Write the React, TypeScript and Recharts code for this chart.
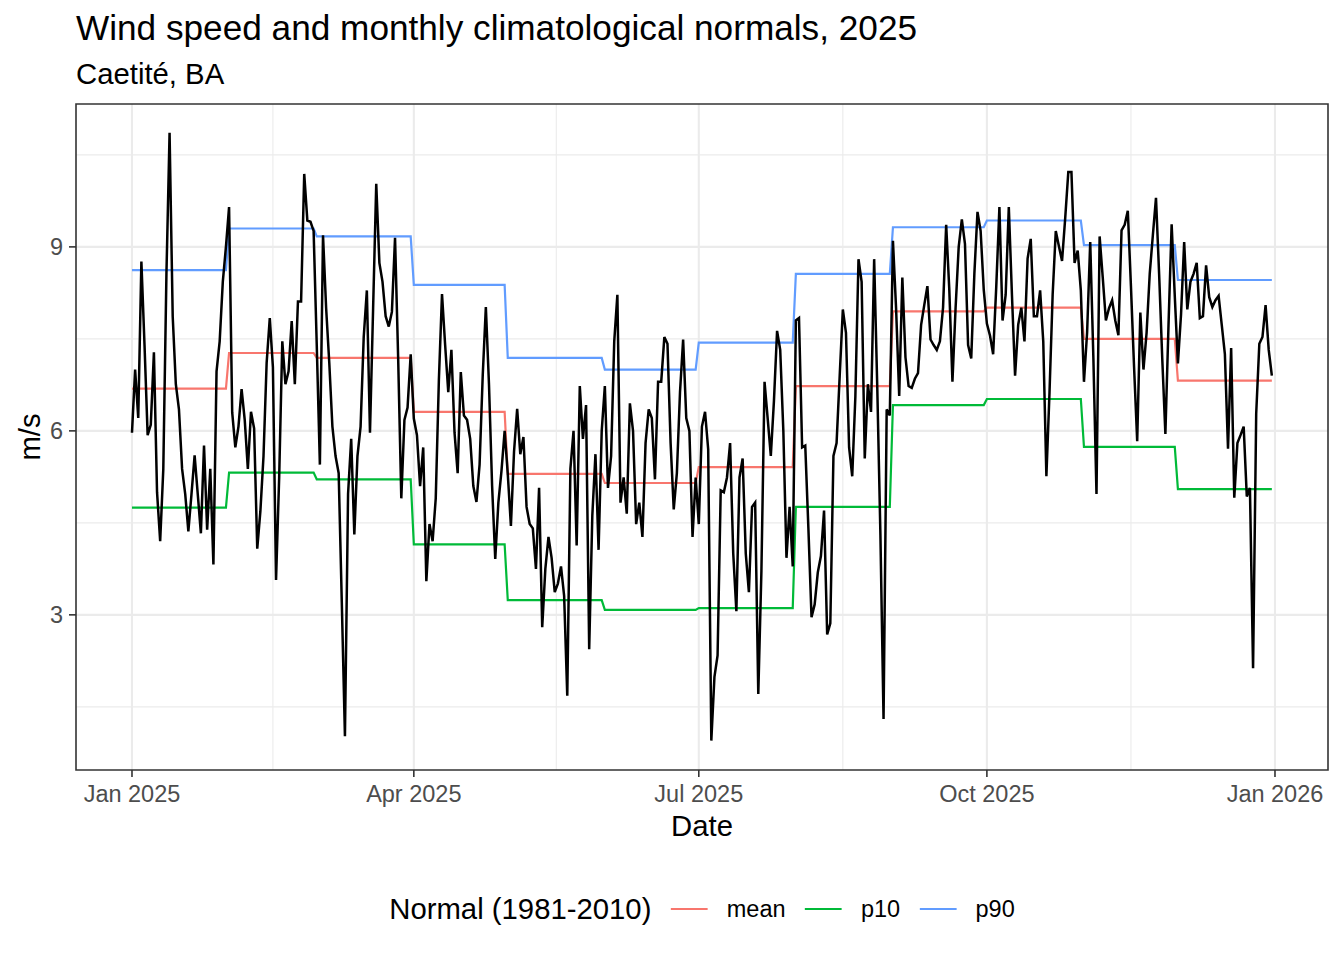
import { CartesianGrid, Line, LineChart, ReferenceArea, XAxis, YAxis } from "recharts";

const FONT = "'Liberation Sans', Arial, Helvetica, sans-serif";

// days in each month of 2025
const monthDays = [31, 28, 31, 30, 31, 30, 31, 31, 30, 31, 30, 31];

// monthly climatological normals (1981-2010), m/s
const normalMean = [6.69, 7.27, 7.19, 6.31, 5.3, 5.15, 5.41, 6.73, 7.95, 8.01, 7.5, 6.82];
const normalP10 = [4.75, 5.32, 5.21, 4.15, 3.24, 3.08, 3.11, 4.76, 6.42, 6.52, 5.74, 5.05];
const normalP90 = [8.62, 9.3, 9.17, 8.38, 7.19, 7.0, 7.44, 8.56, 9.32, 9.43, 9.03, 8.46];

// daily wind speed, 2025-01-01 .. 2025-12-31
const windSpeed = [
  // Jan
  5.97, 7.0, 6.21, 8.76, 7.4, 5.93, 6.1, 7.28, 5.0, 4.2, 5.38, 8.56, 10.86, 7.87, 6.76, 6.35,
  5.38, 4.97, 4.36, 4.97, 5.6, 4.97, 4.33, 5.76, 4.39, 5.38, 3.82, 6.97, 7.46, 8.43, 9.0,
  // Feb
  9.65, 6.3, 5.73, 6.07, 6.68, 6.18, 5.38, 6.31, 6.04, 4.08, 4.69, 5.59, 7.11, 7.84, 7.04, 3.57,
  5.24, 7.46, 6.76, 6.97, 7.79, 6.76, 8.11, 8.11, 10.19, 9.43, 9.41, 9.26,
  // Mar
  7.4, 5.45, 9.19, 8.0, 7.11, 6.07, 5.59, 5.31, 3.2, 1.02, 4.97, 5.87, 4.31, 5.59, 6.07, 7.53,
  8.29, 5.97, 8.0, 10.03, 8.74, 8.43, 7.87, 7.7, 7.94, 9.15, 7.18, 4.9, 6.18, 6.38, 7.25,
  // Apr
  6.2, 5.93, 5.1, 5.73, 3.55, 4.48, 4.2, 4.9, 6.83, 8.23, 7.4, 6.63, 7.32, 5.97, 5.31, 6.96,
  6.25, 6.18, 5.87, 5.1, 4.84, 5.45, 6.9, 8.02, 6.76, 5.1, 3.91, 4.83, 5.35, 6.0,
  // May
  5.3, 4.45, 5.66, 6.36, 5.62, 5.9, 4.76, 4.48, 4.41, 3.75, 5.07, 2.8, 3.75, 4.27, 3.93, 3.37,
  3.51, 3.79, 3.31, 1.68, 5.38, 6.0, 4.13, 6.73, 5.87, 6.42, 2.44, 4.62, 5.62, 4.06, 6.0,
  // Jun
  6.73, 5.07, 5.59, 7.46, 8.22, 4.83, 5.24, 4.65, 6.45, 6.0, 4.48, 4.83, 4.27, 5.8, 6.35, 6.21,
  5.21, 6.8, 6.8, 7.53, 7.42, 5.8, 4.72, 5.31, 6.63, 7.49, 6.21, 6.0, 4.27, 5.24,
  // Jul
  4.48, 6.07, 6.31, 5.7, 0.95, 1.99, 2.34, 5.03, 5.0, 5.24, 5.8, 4.0, 3.06, 5.24, 5.55, 4.0,
  3.37, 4.76, 4.83, 1.71, 3.72, 6.8, 6.2, 5.59, 6.49, 7.63, 7.32, 6.0, 3.93, 4.76, 3.79,
  // Aug
  7.8, 7.84, 5.73, 5.76, 4.41, 2.96, 3.17, 3.69, 3.96, 4.7, 2.68, 2.86, 5.59, 5.8, 6.9, 7.98,
  7.6, 5.73, 5.26, 6.56, 8.8, 8.43, 5.55, 6.76, 6.31, 8.8, 6.7, 4.3, 1.3, 6.35, 6.25,
  // Sep
  9.1, 8.0, 6.57, 8.5, 7.2, 6.73, 6.7, 6.85, 6.94, 7.73, 8.05, 8.36, 7.49, 7.4, 7.32, 7.46,
  8.01, 9.36, 8.3, 6.8, 8.0, 9.0, 9.45, 9.05, 7.4, 7.18, 8.56, 9.57, 9.26, 8.3,
  // Oct
  7.75, 7.55, 7.25, 8.36, 9.65, 7.8, 8.22, 9.65, 8.22, 6.9, 7.73, 8.01, 7.46, 8.81, 9.13, 7.87,
  7.87, 8.29, 7.46, 5.26, 6.63, 8.22, 9.26, 9.01, 8.77, 9.46, 10.22, 10.22, 8.74, 8.94, 8.29,
  // Nov
  6.8, 7.6, 9.08, 7.2, 4.97, 9.17, 8.5, 7.8, 8.0, 8.13, 7.8, 7.56, 9.27, 9.36, 9.59, 8.36,
  7.04, 5.83, 7.93, 7.0, 7.6, 8.56, 9.19, 9.8, 8.56, 7.18, 5.95, 7.73, 9.37, 8.2,
  // Dec
  7.1, 7.9, 9.08, 7.98, 8.43, 8.56, 8.74, 7.84, 7.87, 8.7, 8.18, 8.02, 8.13, 8.2, 7.73, 7.25,
  5.71, 7.35, 4.91, 5.8, 5.93, 6.07, 4.93, 5.07, 2.13, 6.28, 7.42, 7.53, 8.05, 7.32, 6.9,
];

// x axis: day of year (0 = 2025-01-01)
const xTickDays = [0, 90, 181, 273, 365];
const xTickLabels = ["Jan 2025", "Apr 2025", "Jul 2025", "Oct 2025", "Jan 2026"];
const xMinorDays = [45, 135.5, 227, 319];
const xDomain: [number, number] = [-17.88, 381.93];

const yTicks = [3, 6, 9];
const yMinor = [1.5, 4.5, 7.5, 10.5];
const yDomain: [number, number] = [0.47, 11.33];

const seriesNames = ["mean", "p10", "p90"];
const seriesColors = ["#F8766D", "#00BA38", "#619CFF"];

const monthOfDay = monthDays.flatMap((n, m) => Array(n).fill(m) as number[]);
const rows = windSpeed.map((v, i) => ({
  day: i,
  speed: v,
  mean: normalMean[monthOfDay[i]],
  p10: normalP10[monthOfDay[i]],
  p90: normalP90[monthOfDay[i]],
}));

const tickLabel = (d: number) => xTickLabels[xTickDays.indexOf(d)] ?? "";

export default function App() {
  return (
    <div
      style={{
        position: "absolute",
        left: 0,
        top: 0,
        width: 1344,
        height: 960,
        background: "#ffffff",
        fontFamily: FONT,
        color: "#000",
        overflow: "hidden",
      }}
    >
      <div style={{ position: "absolute", left: 76, top: 8, fontSize: 35.2, lineHeight: "40px", whiteSpace: "nowrap" }}>
        Wind speed and monthly climatological normals, 2025
      </div>
      <div style={{ position: "absolute", left: 76, top: 57, fontSize: 29.3, lineHeight: "34px", whiteSpace: "nowrap" }}>
        Caetité, BA
      </div>

      <div style={{ position: "absolute", left: 0, top: 0 }}>
        <LineChart width={1344} height={960} data={rows} margin={{ top: 104, right: 16, bottom: 140, left: 0 }}>
          <CartesianGrid stroke="#EBEBEB" strokeWidth={1.1} horizontalValues={yMinor} verticalValues={xMinorDays} />
          <CartesianGrid stroke="#EBEBEB" strokeWidth={2.1} horizontalValues={yTicks} verticalValues={xTickDays} />
          <XAxis
            dataKey="day"
            type="number"
            domain={xDomain}
            allowDataOverflow
            ticks={xTickDays}
            tickFormatter={tickLabel}
            height={50}
            axisLine={false}
            tickLine={{ stroke: "#333333", strokeWidth: 1.6 }}
            tickSize={7}
            tickMargin={8}
            tick={{ fill: "#4D4D4D", fontSize: 23.5, fontFamily: FONT }}
            interval={0}
          />
          <YAxis
            type="number"
            domain={yDomain}
            allowDataOverflow
            ticks={yTicks}
            width={76}
            axisLine={false}
            tickLine={{ stroke: "#333333", strokeWidth: 1.6 }}
            tickSize={7}
            tickMargin={6}
            tick={{ fill: "#4D4D4D", fontSize: 23.5, fontFamily: FONT }}
            interval={0}
          />
          {seriesNames.map((name, i) => (
            <Line
              key={name}
              type="linear"
              dataKey={name}
              stroke={seriesColors[i]}
              strokeWidth={2.2}
              dot={false}
              activeDot={false}
              isAnimationActive={false}
            />
          ))}
          <Line
            type="linear"
            dataKey="speed"
            stroke="#000000"
            strokeWidth={2.5}
            dot={false}
            activeDot={false}
            isAnimationActive={false}
          />
          <ReferenceArea
            x1={xDomain[0]}
            x2={xDomain[1]}
            y1={yDomain[0]}
            y2={yDomain[1]}
            fill="none"
            stroke="#333333"
            strokeWidth={1.6}
          />
        </LineChart>
      </div>

      <div
        style={{
          position: "absolute",
          left: 30 - 100,
          top: 437 - 17,
          width: 200,
          height: 34,
          lineHeight: "34px",
          fontSize: 29.3,
          textAlign: "center",
          transform: "rotate(-90deg)",
        }}
      >
        m/s
      </div>
      <div
        style={{
          position: "absolute",
          left: 702 - 100,
          top: 809,
          width: 200,
          lineHeight: "34px",
          fontSize: 29.3,
          textAlign: "center",
        }}
      >
        Date
      </div>

      <div
        style={{
          position: "absolute",
          left: 702,
          top: 892,
          transform: "translateX(-50%)",
          display: "flex",
          alignItems: "center",
          height: 34,
          whiteSpace: "nowrap",
        }}
      >
        <span style={{ fontSize: 29.3, lineHeight: "34px", marginRight: 14.7 }}>Normal (1981-2010)</span>
        {seriesNames.map((name, i) => (
          <div key={name} style={{ display: "flex", alignItems: "center", marginLeft: i === 0 ? 0 : 14.7 }}>
            <svg width={46} height={34} style={{ display: "block" }}>
              <line x1={4.6} x2={41.4} y1={17} y2={17} stroke={seriesColors[i]} strokeWidth={2.2} />
            </svg>
            <span style={{ fontSize: 23.5, lineHeight: "28px", marginLeft: 14.7 }}>{name}</span>
          </div>
        ))}
      </div>
    </div>
  );
}
